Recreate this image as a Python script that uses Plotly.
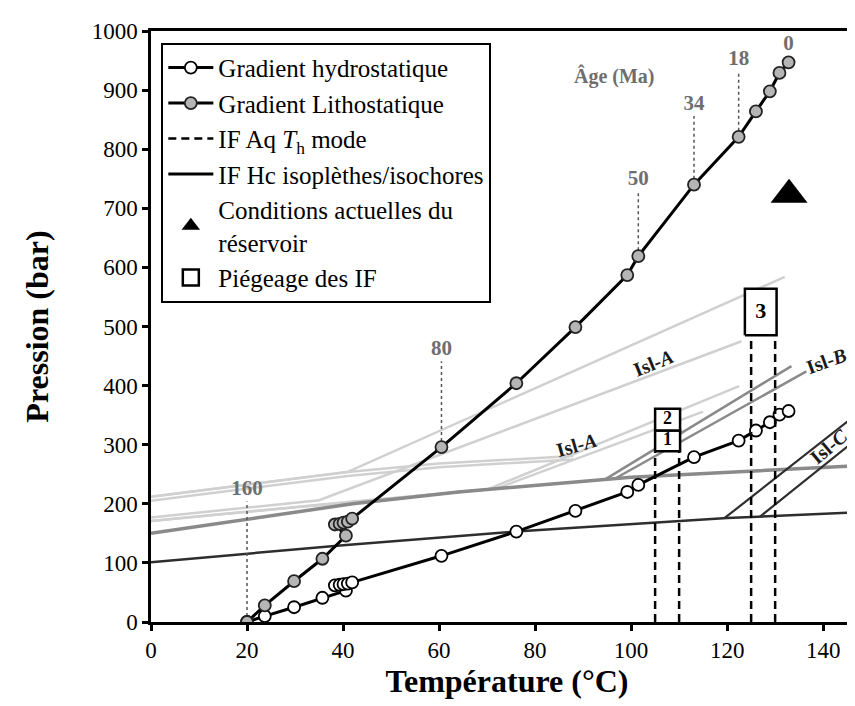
import plotly.graph_objects as go

# ---------------- data ----------------
# burial history temperatures (shared by both gradients)
T_hist = [20, 23.7, 29.8, 35.7, 40.6, 38.3, 39.3, 40.1, 41.0, 41.9,
          60.5, 76.1, 88.4, 99.2, 101.5, 113.1, 122.4, 126.0, 128.9, 130.9, 132.8]
P_litho = [0, 28, 69, 107, 146, 165, 166, 168, 170, 175,
           296, 404, 499, 587, 619, 740, 821, 864, 898, 929, 947]
P_hydro = [0, 10, 25, 41, 53, 62, 63, 64, 65, 67,
           112, 153, 188, 220, 232, 279, 307, 324, 338, 351, 357]

# ages (Ma) annotated on the lithostatic gradient
age_labels = ["160", "80", "50", "34", "18", "0"]
age_T = [20, 60.5, 101.5, 113.1, 122.4, 132.8]
age_P_point = [0, 296, 619, 740, 821, 947]
age_P_top = [204, 441, 729, 856, 932, None]
age_P_label = [224, 461, 748, 876, 951, 977]

# Hc isopleths / isochores : Isl-A (light grey)
islA_1_T = [0, 41, 132];          islA_1_P = [212, 254, 584]
islA_2_T = [0, 41, 60, 88];       islA_2_P = [212, 254, 268, 281]
islA_3_T = [0, 41, 60, 88];       islA_3_P = [205, 247, 262, 275]
islA_4_T = [0, 35, 123];          islA_4_P = [177, 206, 475]
islA_5_T = [0, 41, 70, 122.5];    islA_5_P = [171, 203, 224, 399]
islA_6_T = [0, 41, 72, 115];      islA_6_P = [171, 203, 226, 356]
# Isl-B (medium grey)
islB_0_T = [0, 42, 64, 100, 148.3]; islB_0_P = [150, 200, 220, 245, 265]
islB_1_T = [94.5, 133.4];           islB_1_P = [241, 433]
islB_2_T = [96.5, 136.5];           islB_2_P = [242, 424]
# Isl-C (dark grey)
islC_0_T = [0, 40, 76, 120, 148.3]; islC_0_P = [101, 130, 153, 176, 186]
islC_1_T = [119.5, 148.3];          islC_1_P = [176, 360]
islC_2_T = [126.8, 148.3];          islC_2_P = [178, 318]

# aqueous FI homogenisation-temperature modes
Th_mode = [105, 110, 125, 130]
Th_P_top = [289, 289, 485, 485]

# FI trapping boxes
box_labels = ["1", "2", "3"]
box_T0 = [105.0, 105.0, 123.7]
box_T1 = [110.2, 110.2, 130.3]
box_P0 = [289, 324, 485]
box_P1 = [324, 361, 564]

# present-day reservoir conditions
res_T = [132.9]
res_P = [723]

# Isl labels
isl_labels = ["<b>Isl-<i>A</i></b>", "<b>Isl-<i>A</i></b>", "<b>Isl-<i>B</i></b>", "<b>Isl-<i>C</i></b>"]
isl_T = [104.6, 88.6, 140.6, 141.3]
isl_P = [438, 300, 441, 297]
isl_angle = [-22, -16, -20, -40]

x_ticks = [0, 20, 40, 60, 80, 100, 120, 140]
y_ticks = [0, 100, 200, 300, 400, 500, 600, 700, 800, 900, 1000]

FONT = "Liberation Serif, Times New Roman, serif"
LIGHT = "#d0d0d0"
MED = "#8a8a8a"
DARK = "#2e2e2e"

fig = go.Figure()

def line(x, y, color, width):
    fig.add_trace(go.Scatter(x=x, y=y, mode="lines", line=dict(color=color, width=width),
                             showlegend=False, hoverinfo="skip"))

for tx, py in [(islA_1_T, islA_1_P), (islA_2_T, islA_2_P), (islA_3_T, islA_3_P),
               (islA_4_T, islA_4_P), (islA_5_T, islA_5_P), (islA_6_T, islA_6_P)]:
    line(tx, py, LIGHT, 2.5)
line(islB_0_T, islB_0_P, MED, 3.5)
line(islB_1_T, islB_1_P, MED, 2.5)
line(islB_2_T, islB_2_P, MED, 2.5)
line(islC_0_T, islC_0_P, DARK, 2.5)
line(islC_1_T, islC_1_P, DARK, 2.2)
line(islC_2_T, islC_2_P, DARK, 2.2)

# age dotted leaders
dx, dy = [], []
for t, p0, p1 in zip(age_T, age_P_point, age_P_top):
    if p1 is None:
        continue
    dx += [t, t, None]
    dy += [p0, p1, None]
fig.add_trace(go.Scatter(x=dx, y=dy, mode="lines", line=dict(color="#555555", width=1.5, dash="dot"),
                         showlegend=False, hoverinfo="skip"))

# gradients
fig.add_trace(go.Scatter(x=T_hist, y=P_hydro, mode="lines+markers", name="Gradient hydrostatique",
                         line=dict(color="black", width=3),
                         marker=dict(symbol="circle", size=12, color="white", line=dict(color="black", width=1.8)),
                         legendrank=1))
fig.add_trace(go.Scatter(x=T_hist, y=P_litho, mode="lines+markers", name="Gradient Lithostatique",
                         line=dict(color="black", width=3),
                         marker=dict(symbol="circle", size=12, color="#b5b5b5", line=dict(color="#222222", width=1.8)),
                         legendrank=2))

# Th modes (dashed)
hx, hy = [], []
for t, p in zip(Th_mode, Th_P_top):
    hx += [t, t, None]
    hy += [0, p, None]
fig.add_trace(go.Scatter(x=hx, y=hy, mode="lines", name="IF Aq <i>T</i><sub>h</sub> mode",
                         line=dict(color="black", width=2.5, dash="8px,5px"), legendrank=3))
# legend item for Hc lines
fig.add_trace(go.Scatter(x=[None], y=[None], mode="lines", name="IF Hc isoplèthes/isochores",
                         line=dict(color="black", width=3), legendrank=4))

# trapping boxes
for lab, t0, t1, p0, p1 in zip(box_labels, box_T0, box_T1, box_P0, box_P1):
    fig.add_trace(go.Scatter(x=[t0, t1, t1, t0, t0], y=[p0, p0, p1, p1, p0], mode="lines",
                             fill="toself", fillcolor="white", line=dict(color="black", width=2.5),
                             showlegend=False, hoverinfo="skip"))
fig.add_trace(go.Scatter(x=[(a + b) / 2 for a, b in zip(box_T0, box_T1)],
                         y=[(a + b) / 2 for a, b in zip(box_P0, box_P1)],
                         mode="text", text=["<b>%s</b>" % s for s in box_labels],
                         textfont=dict(family=FONT, size=[18, 18, 22], color="black"),
                         showlegend=False, hoverinfo="skip"))

# reservoir
fig.add_trace(go.Scatter(x=res_T, y=res_P, mode="markers", name="Conditions actuelles du<br>réservoir",
                         marker=dict(symbol="triangle-up", size=32, color="black"), legendrank=5))
fig.add_trace(go.Scatter(x=[None], y=[None], mode="markers", name="Piégeage des IF",
                         marker=dict(symbol="square-open", size=20, color="black", line=dict(width=2.5)),
                         legendrank=6))

# age labels
fig.add_trace(go.Scatter(x=age_T, y=age_P_label, mode="text", text=["<b>%s</b>" % a for a in age_labels],
                         textfont=dict(family=FONT, size=21, color="#6e6e6e"),
                         showlegend=False, hoverinfo="skip"))
fig.add_annotation(x=96.6, y=924, text="<b>Âge (Ma)</b>", showarrow=False,
                   font=dict(family=FONT, size=20, color="#6e6e6e"))

for txt, t, p, a in zip(isl_labels, isl_T, isl_P, isl_angle):
    fig.add_annotation(x=t, y=p, text=txt, showarrow=False, textangle=a,
                       font=dict(family=FONT, size=20, color="#1a1a1a"))

# legend groups for spacing
for i, tr in enumerate(fig.data):
    tr.legendgroup = "g%d" % i

fig.update_layout(
    width=855, height=706,
    margin=dict(l=143, r=0, t=23, b=92),
    paper_bgcolor="white", plot_bgcolor="white",
    font=dict(family=FONT, size=22, color="black"),
    legend=dict(x=0.0145, y=0.98, xanchor="left", yanchor="top",
                bordercolor="black", borderwidth=2, bgcolor="white",
                font=dict(family=FONT, size=25, color="black"),
                tracegroupgap=8, itemwidth=45, traceorder="normal"),
    xaxis=dict(range=[0, 148.3], tickvals=x_ticks, showline=True, linecolor="black", linewidth=2.5,
               mirror=True, ticks="outside", ticklen=6, tickwidth=2.5, tickcolor="black",
               showgrid=False, zeroline=False, tickfont=dict(family=FONT, size=23),
               title=dict(text="<b>Température (°C)</b>", font=dict(family=FONT, size=32), standoff=8)),
    yaxis=dict(range=[0, 1000], tickvals=y_ticks, showline=True, linecolor="black", linewidth=2.5,
               ticks="outside", ticklen=6, tickwidth=2.5, tickcolor="black",
               showgrid=False, zeroline=False, tickfont=dict(family=FONT, size=23),
               title=dict(text="<b>Pression (bar)</b>", font=dict(family=FONT, size=32), standoff=34)),
)

fig.write_html("out.html")
